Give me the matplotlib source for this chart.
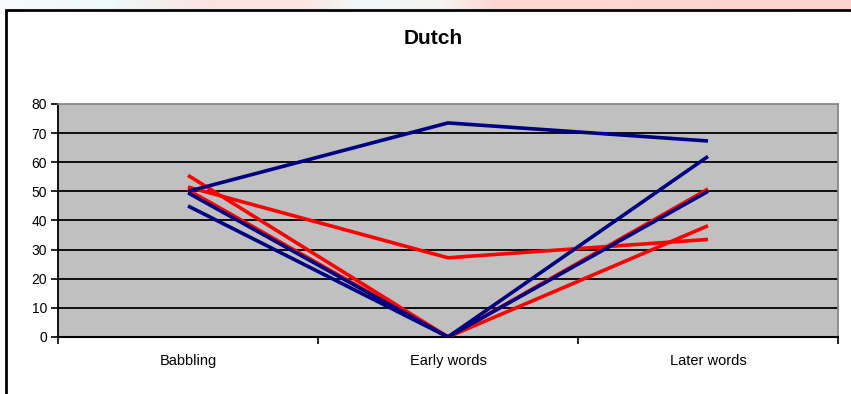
import numpy as np
import matplotlib
matplotlib.use("Agg")
import matplotlib.pyplot as plt
from matplotlib.colors import LinearSegmentedColormap
from matplotlib.patches import Rectangle

plt.rcParams['font.family'] = ['Liberation Sans', 'DejaVu Sans']

# Data
categories = ["Babbling", "Early words", "Later words"]
blue_series = [
    [50, 73.5, 67.3],
    [45, 0, 62],
    [49.5, 0, 50],
]
red_series = [
    [51.5, 27.2, 33.5],
    [55.5, 0, 38.2],
    [50.5, 0, 50.8],
]
y_ticks = [0, 10, 20, 30, 40, 50, 60, 70, 80]
title = "Dutch"

W, H = 851, 394
fig = plt.figure(figsize=(W / 100, H / 100), dpi=100)
fig.patch.set_facecolor("white")

# Soft slide background strip above the chart frame
strip = fig.add_axes([0, 1 - 9 / H, 1, 9 / H])
strip.set_axis_off()
bg = LinearSegmentedColormap.from_list(
    "bg",
    [(0.0, "#f7fbfb"), (0.13, "#eef9fa"), (0.25, "#fbe3df"), (0.36, "#fbe6e2"),
     (0.42, "#f1f8f8"), (0.52, "#f5f4f2"), (0.58, "#fcd8d2"), (1.0, "#fdd3cc")])
strip.imshow(np.linspace(0, 1, 256)[None, :], aspect="auto", cmap=bg,
             extent=[0, 1, 0, 1])

# Chart frame
fig.patches.append(Rectangle((6 / W, -0.05), 1.0, 1 - 9.5 / H + 0.05,
                             transform=fig.transFigure, fill=False,
                             edgecolor="black", linewidth=2.0, zorder=5))

ax = fig.add_axes([58 / W, 57 / H, 780 / W, 233 / H])
ax.set_facecolor("#c0c0c0")

x = np.arange(len(categories))
for vals in red_series:
    ax.plot(x, vals, color="#ff0000", linewidth=2.6, solid_capstyle="butt", zorder=3)
for vals in blue_series:
    ax.plot(x, vals, color="#000080", linewidth=2.6, solid_capstyle="butt", zorder=3)

ax.set_xlim(-0.5, len(categories) - 0.5)
ax.set_ylim(0, 80)
ax.set_yticks(y_ticks)
ax.set_yticklabels([str(v) for v in y_ticks], fontsize=10)
ax.set_xticks(x)
ax.set_xticklabels(categories, fontsize=10.5)
ax.tick_params(axis="x", which="major", length=0, pad=12)
ax.set_xticks(np.arange(len(categories) + 1) - 0.5, minor=True)
ax.tick_params(axis="x", which="minor", length=5, width=1.2, color="black")
ax.tick_params(axis="y", length=5, width=1.2, color="black", pad=3)

for v in y_ticks[1:-1]:
    ax.axhline(v, color="black", linewidth=1.3, zorder=1)

ax.spines["left"].set_color("black")
ax.spines["left"].set_linewidth(1.3)
ax.spines["bottom"].set_color("black")
ax.spines["bottom"].set_linewidth(1.5)
ax.spines["top"].set_color("#808080")
ax.spines["right"].set_color("#808080")
ax.spines["top"].set_linewidth(1.2)
ax.spines["right"].set_linewidth(1.2)

fig.text(433 / W, 1 - 39 / H, title, ha="center", va="center",
         fontsize=15, fontweight="bold")

fig.savefig("out.png", dpi=100)
